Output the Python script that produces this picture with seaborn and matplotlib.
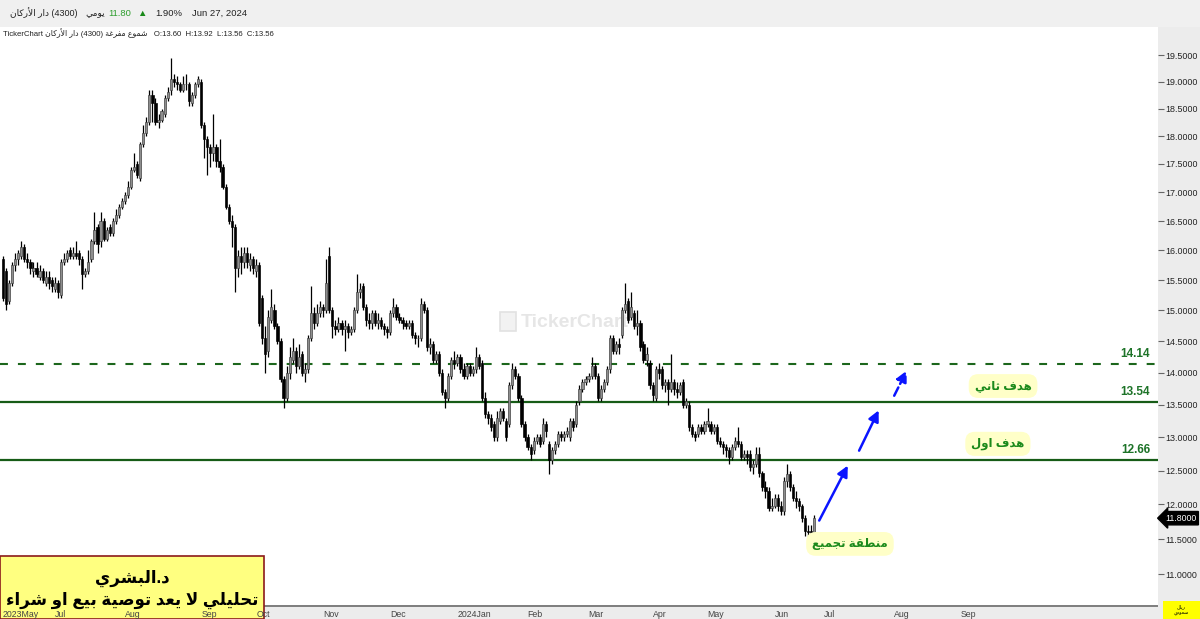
import matplotlib
matplotlib.use("Agg")
import matplotlib.pyplot as plt
import matplotlib.transforms as mtransforms
from matplotlib.patches import Rectangle, FancyArrowPatch
from matplotlib.ticker import FormatStrFormatter
import numpy as np
import seaborn as sns

# ---- candles (one per trading day, May 2023 .. Jun 27 2024) ----
opens = [
    15.85, 15.65, 15.15, 15.45, 15.75, 15.85, 15.90, 16.05, 15.85, 15.80,
    15.65, 15.70, 15.55, 15.65, 15.45, 15.55, 15.50, 15.35, 15.45, 15.25,
    15.80, 15.85, 16.00, 15.90, 15.95, 15.95, 15.85, 15.60, 15.65, 15.85,
    16.15, 16.40, 16.15, 16.50, 16.20, 16.40, 16.30, 16.50, 16.60, 16.75,
    16.85, 16.95, 17.10, 17.40, 17.50, 17.25, 17.85, 18.05, 18.25, 18.75,
    18.60, 18.25, 18.30, 18.40, 18.70, 18.85, 19.05, 19.00, 18.95, 18.85,
    18.95, 18.95, 18.60, 18.75, 18.95, 19.00, 18.20, 17.95, 17.80, 17.70,
    17.80, 17.55, 17.45, 17.10, 16.75, 16.50, 16.40, 15.70, 15.90, 15.80,
    15.95, 15.75, 15.85, 15.65, 15.75, 15.20, 14.55, 14.35, 14.85, 15.00,
    14.75, 14.50, 13.90, 13.60, 14.00, 14.20, 14.35, 14.10, 14.30, 14.00,
    14.05, 14.55, 14.95, 14.80, 14.95, 15.05, 15.00, 15.90, 15.00, 14.75,
    14.70, 14.80, 14.70, 14.75, 14.65, 14.70, 15.00, 15.30, 15.40, 15.05,
    14.85, 14.80, 14.95, 14.80, 14.85, 14.75, 14.70, 14.65, 14.95, 15.05,
    14.90, 14.85, 14.80, 14.75, 14.80, 14.60, 14.55, 14.55, 15.10, 15.00,
    14.40, 14.45, 14.20, 14.30, 14.00, 13.70, 13.60, 13.95, 14.20, 14.15,
    14.25, 14.05, 13.95, 14.10, 14.00, 14.05, 14.25, 14.15, 13.60, 13.35,
    13.30, 13.20, 13.00, 13.25, 13.40, 13.25, 13.20, 13.80, 14.05, 13.95,
    13.60, 13.20, 13.00, 12.85, 12.80, 12.95, 13.00, 12.95, 13.20, 12.90,
    12.65, 12.80, 12.90, 13.05, 13.00, 13.05, 13.00, 13.25, 13.20, 13.55,
    13.75, 13.85, 13.90, 13.95, 14.10, 13.95, 13.60, 13.75, 13.85, 14.05,
    14.55, 14.35, 14.45, 14.60, 15.00, 15.15, 14.90, 14.95, 14.75, 14.80,
    14.45, 14.20, 14.15, 13.80, 13.60, 14.05, 14.05, 13.80, 13.85, 13.75,
    13.85, 13.75, 13.70, 13.85, 13.50, 13.50, 13.15, 13.05, 13.05, 13.15,
    13.10, 13.20, 13.20, 13.10, 13.15, 12.95, 12.90, 12.85, 12.80, 12.70,
    12.85, 12.95, 12.90, 12.70, 12.75, 12.75, 12.55, 12.60, 12.75, 12.47,
    12.25, 12.20, 11.95, 11.98, 12.10, 11.98, 11.90, 12.35, 12.45, 12.25,
    12.10, 12.05, 11.98, 11.80, 11.62, 11.62, 11.60,
]
highs = [
    15.90, 15.70, 15.50, 15.80, 15.95, 16.00, 16.15, 16.10, 15.95, 15.85,
    15.80, 15.80, 15.75, 15.70, 15.65, 15.65, 15.55, 15.55, 15.50, 15.85,
    15.95, 16.00, 16.05, 16.05, 16.15, 16.00, 15.90, 15.70, 16.00, 16.20,
    16.65, 16.45, 16.65, 16.55, 16.40, 16.45, 16.55, 16.70, 16.80, 16.90,
    17.00, 17.20, 17.45, 17.70, 17.55, 17.90, 18.20, 18.35, 18.85, 18.85,
    18.70, 18.40, 18.50, 18.75, 18.90, 19.45, 19.15, 19.10, 19.00, 19.10,
    19.15, 19.00, 18.80, 19.00, 19.10, 19.05, 18.25, 18.00, 17.85, 18.40,
    17.85, 17.95, 17.50, 17.15, 16.80, 16.60, 16.45, 16.00, 16.05, 16.05,
    16.05, 15.95, 15.90, 15.85, 15.80, 15.25, 14.75, 15.00, 15.35, 15.10,
    14.80, 14.55, 13.95, 14.10, 14.40, 14.55, 14.40, 14.45, 14.35, 14.15,
    14.60, 15.40, 15.05, 15.10, 15.15, 15.10, 15.85, 16.05, 15.05, 14.85,
    14.90, 14.85, 14.85, 14.80, 14.75, 15.05, 15.60, 15.45, 15.45, 15.10,
    14.95, 15.00, 15.00, 14.95, 14.90, 14.80, 14.75, 15.00, 15.20, 15.10,
    14.95, 14.90, 14.85, 14.85, 14.85, 14.65, 14.60, 15.20, 15.15, 15.05,
    14.55, 14.50, 14.35, 14.35, 14.05, 13.75, 14.00, 14.25, 14.35, 14.30,
    14.30, 14.15, 14.15, 14.15, 14.10, 14.40, 14.30, 14.20, 13.70, 13.40,
    13.35, 13.25, 13.40, 13.45, 13.45, 13.30, 13.85, 14.15, 14.10, 14.00,
    13.65, 13.25, 13.05, 12.90, 13.00, 13.05, 13.05, 13.30, 13.25, 12.95,
    12.85, 12.95, 13.10, 13.10, 13.10, 13.15, 13.30, 13.30, 13.55, 13.80,
    13.90, 13.95, 14.00, 14.25, 14.15, 14.00, 13.80, 13.90, 14.10, 14.60,
    14.60, 14.50, 14.55, 15.05, 15.45, 15.20, 15.30, 15.00, 15.00, 14.85,
    14.50, 14.40, 14.20, 13.85, 14.10, 14.15, 14.10, 13.90, 13.90, 14.30,
    13.90, 13.85, 13.85, 13.90, 13.60, 13.55, 13.20, 13.10, 13.20, 13.20,
    13.25, 13.45, 13.25, 13.20, 13.20, 13.00, 12.95, 12.90, 12.85, 12.90,
    13.00, 13.15, 12.95, 12.80, 12.80, 12.80, 12.65, 12.85, 12.85, 12.50,
    12.35, 12.25, 12.10, 12.15, 12.15, 12.05, 12.40, 12.60, 12.50, 12.30,
    12.20, 12.10, 12.00, 11.85, 11.70, 11.70, 11.85,
]
lows = [
    15.15, 15.00, 15.10, 15.40, 15.65, 15.75, 15.85, 15.80, 15.70, 15.60,
    15.55, 15.55, 15.50, 15.45, 15.40, 15.35, 15.30, 15.30, 15.20, 15.20,
    15.75, 15.80, 15.85, 15.85, 15.85, 15.75, 15.35, 15.55, 15.60, 15.80,
    16.10, 15.95, 16.05, 16.15, 16.15, 16.25, 16.25, 16.45, 16.55, 16.70,
    16.80, 16.90, 17.05, 17.35, 17.25, 17.20, 17.80, 18.00, 18.20, 18.25,
    18.20, 18.15, 18.25, 18.35, 18.65, 18.75, 18.90, 18.85, 18.80, 18.80,
    18.85, 18.55, 18.55, 18.70, 18.90, 18.15, 17.60, 17.30, 17.45, 17.55,
    17.45, 17.35, 17.05, 16.70, 16.45, 16.05, 15.30, 15.55, 15.60, 15.70,
    15.70, 15.65, 15.60, 15.55, 14.75, 14.45, 14.00, 14.25, 14.80, 14.70,
    14.45, 13.85, 13.45, 13.55, 13.90, 14.15, 14.00, 14.05, 13.95, 13.85,
    14.00, 14.50, 14.70, 14.75, 14.90, 14.90, 14.95, 14.95, 14.55, 14.60,
    14.65, 14.60, 14.35, 14.55, 14.60, 14.65, 14.95, 15.20, 15.00, 14.75,
    14.70, 14.70, 14.75, 14.70, 14.70, 14.60, 14.55, 14.60, 14.90, 14.85,
    14.80, 14.70, 14.70, 14.70, 14.55, 14.45, 14.40, 14.50, 14.95, 14.35,
    14.30, 14.15, 14.15, 13.95, 13.65, 13.45, 13.55, 13.90, 14.05, 14.10,
    14.00, 13.90, 13.90, 13.95, 13.95, 14.00, 14.05, 13.55, 13.30, 13.20,
    13.10, 12.95, 12.95, 13.20, 13.25, 12.95, 13.15, 13.75, 13.90, 13.55,
    13.15, 12.95, 12.80, 12.65, 12.75, 12.90, 12.85, 12.90, 13.00, 12.45,
    12.60, 12.75, 12.85, 12.95, 12.95, 13.00, 12.95, 13.10, 13.15, 13.50,
    13.70, 13.80, 13.85, 13.90, 13.90, 13.55, 13.55, 13.70, 13.80, 14.00,
    14.30, 14.30, 14.30, 14.55, 14.95, 14.80, 14.85, 14.70, 14.60, 14.35,
    14.15, 14.10, 13.75, 13.55, 13.55, 13.90, 13.75, 13.70, 13.50, 13.70,
    13.65, 13.60, 13.65, 13.45, 13.45, 13.10, 13.00, 12.95, 13.00, 13.05,
    13.05, 13.15, 13.05, 13.05, 12.90, 12.85, 12.75, 12.70, 12.60, 12.65,
    12.80, 12.85, 12.65, 12.65, 12.60, 12.50, 12.45, 12.55, 12.40, 12.20,
    12.10, 11.90, 11.90, 11.95, 11.90, 11.85, 11.85, 12.25, 12.20, 12.05,
    11.95, 11.90, 11.75, 11.55, 11.52, 11.52, 11.55,
]
closes = [
    15.20, 15.10, 15.45, 15.75, 15.85, 15.95, 16.05, 15.85, 15.80, 15.70,
    15.70, 15.60, 15.65, 15.50, 15.55, 15.45, 15.40, 15.45, 15.30, 15.80,
    15.85, 15.95, 15.90, 15.95, 15.90, 15.85, 15.60, 15.65, 15.80, 16.15,
    16.35, 16.10, 16.50, 16.20, 16.35, 16.30, 16.50, 16.60, 16.75, 16.85,
    16.95, 17.10, 17.40, 17.45, 17.30, 17.85, 18.05, 18.25, 18.75, 18.60,
    18.25, 18.30, 18.45, 18.70, 18.80, 19.05, 19.00, 18.95, 18.85, 18.95,
    18.95, 18.65, 18.75, 18.95, 19.05, 18.20, 17.95, 17.80, 17.70, 17.80,
    17.55, 17.45, 17.10, 16.75, 16.50, 16.40, 15.70, 15.90, 15.80, 15.95,
    15.80, 15.85, 15.70, 15.75, 14.80, 14.55, 14.30, 14.90, 15.05, 14.75,
    14.50, 13.90, 13.60, 14.00, 14.25, 14.35, 14.10, 14.25, 14.00, 14.05,
    14.55, 14.95, 14.80, 14.95, 15.05, 15.00, 15.45, 15.00, 14.75, 14.70,
    14.80, 14.70, 14.75, 14.65, 14.70, 15.00, 15.30, 15.35, 15.05, 14.85,
    14.80, 14.95, 14.80, 14.85, 14.75, 14.70, 14.65, 14.95, 15.05, 14.90,
    14.85, 14.80, 14.75, 14.80, 14.60, 14.55, 14.55, 15.10, 15.00, 14.40,
    14.45, 14.20, 14.30, 14.00, 13.70, 13.60, 13.95, 14.20, 14.15, 14.25,
    14.05, 13.95, 14.10, 14.00, 14.05, 14.25, 14.10, 13.60, 13.35, 13.30,
    13.15, 13.00, 13.30, 13.40, 13.30, 13.00, 13.80, 14.05, 13.95, 13.60,
    13.20, 13.00, 12.85, 12.75, 12.95, 13.00, 12.90, 13.20, 13.10, 12.65,
    12.80, 12.90, 13.05, 13.00, 13.05, 13.10, 13.25, 13.15, 13.50, 13.75,
    13.85, 13.90, 13.95, 14.10, 13.95, 13.60, 13.75, 13.85, 14.05, 14.55,
    14.35, 14.45, 14.40, 15.00, 15.10, 14.85, 15.05, 14.75, 14.80, 14.40,
    14.20, 14.30, 13.80, 13.65, 14.05, 14.00, 13.80, 13.85, 13.75, 13.85,
    13.75, 13.70, 13.80, 13.50, 13.55, 13.15, 13.05, 13.00, 13.15, 13.10,
    13.20, 13.25, 13.10, 13.15, 12.95, 12.90, 12.85, 12.80, 12.70, 12.85,
    12.95, 12.90, 12.70, 12.75, 12.70, 12.55, 12.60, 12.75, 12.47, 12.25,
    12.20, 11.95, 11.98, 12.10, 11.98, 11.90, 12.35, 12.45, 12.25, 12.10,
    12.05, 11.98, 11.80, 11.62, 11.60, 11.58, 11.80,
]

# month ticks (trading-day index where each month starts)
month_pos = [0, 17, 40, 65, 83, 105, 127, 149, 172, 192, 213, 231, 253, 269, 292, 314]
month_labels = ["2023May", "Jul", "Aug", "Sep", "Oct", "Nov", "Dec", "2024Jan",
                "Feb", "Mar", "Apr", "May", "Jun", "Jul", "Aug", "Sep"]
price_ticks = [11.0, 11.5, 12.0, 12.5, 13.0, 13.5, 14.0, 14.5, 15.0,
               15.5, 16.0, 16.5, 17.0, 17.5, 18.0, 18.5, 19.0, 19.5]

# target levels
levels = [14.14, 13.54, 12.66]
level_dashed = [True, False, False]

# projected path arrows in (day index, price)
arrow_start_x = [267.2, 280.3, 291.8]
arrow_start_y = [11.73, 12.76, 13.60]
arrow_end_x = [277.4, 287.5, 296.7]
arrow_end_y = [12.61, 13.45, 14.07]
arrow_dashed = [False, False, True]

# callout boxes
callout_text = ["هدف ثاني", "هدف اول", "منطقة تجميع"]
callout_x = [327.9, 326.2, 277.7]
callout_y = [13.79, 12.90, 11.43]

last_price = 11.80


# ---- minimal Arabic shaping (matplotlib has no RTL/joining support) ----
_DUAL = {'ئ': 0xFE89, 'ب': 0xFE8F, 'ت': 0xFE95, 'ث': 0xFE99, 'ج': 0xFE9D,
         'ح': 0xFEA1, 'خ': 0xFEA5, 'س': 0xFEB1, 'ش': 0xFEB5, 'ص': 0xFEB9,
         'ض': 0xFEBD, 'ط': 0xFEC1, 'ظ': 0xFEC5, 'ع': 0xFEC9, 'غ': 0xFECD,
         'ف': 0xFED1, 'ق': 0xFED5, 'ك': 0xFED9, 'ل': 0xFEDD, 'م': 0xFEE1,
         'ن': 0xFEE5, 'ه': 0xFEE9, 'ي': 0xFEF1}
_RIGHT = {'آ': 0xFE81, 'أ': 0xFE83, 'ؤ': 0xFE85, 'إ': 0xFE87, 'ا': 0xFE8D,
          'ة': 0xFE93, 'د': 0xFEA9, 'ذ': 0xFEAB, 'ر': 0xFEAD, 'ز': 0xFEAF,
          'و': 0xFEED, 'ى': 0xFEEF}
_LAM_ALEF = {'آ': 0xFEF5, 'أ': 0xFEF7, 'إ': 0xFEF9, 'ا': 0xFEFB}


def rtl(text):
    toks = []
    i = 0
    while i < len(text):
        c = text[i]
        if c == 'ل' and i + 1 < len(text) and text[i + 1] in _LAM_ALEF:
            toks.append(('R', _LAM_ALEF[text[i + 1]]))
            i += 2
            continue
        if c in _DUAL:
            toks.append(('D', _DUAL[c]))
        elif c in _RIGHT:
            toks.append(('R', _RIGHT[c]))
        else:
            toks.append((None, c))
        i += 1
    out = []
    for k, (kind, base) in enumerate(toks):
        if kind is None:
            out.append(base)
            continue
        prev = toks[k - 1][0] if k > 0 else None
        nxt = toks[k + 1][0] if k + 1 < len(toks) else None
        jp = prev == 'D'
        jn = kind == 'D' and nxt is not None
        if jp and jn:
            code = base + 3
        elif jn:
            code = base + 2
        elif jp:
            code = base + 1
        else:
            code = base
        out.append(chr(code))
    return ''.join(out)[::-1]


# ---- figure ----
sns.set_style("white")
plt.rcParams['font.family'] = ['Liberation Sans', 'DejaVu Sans']

W, H = 1200, 619
fig = plt.figure(figsize=(W / 100, H / 100), dpi=100)
fig.patch.set_facecolor('white')


def fx(px):
    return px / W


def fy(py):
    return 1 - py / H


ax = fig.add_axes([0, fy(606), fx(1158), (606 - 27) / H])
ax.set_facecolor('none')

o = np.array(opens)
h = np.array(highs)
lo = np.array(lows)
c = np.array(closes)
x = np.arange(len(c))
up = c >= o

ax.vlines(x, lo, h, color='black', lw=0.9, zorder=2)
ax.bar(x[up], (c - o)[up], bottom=o[up], width=0.72, color='#8e8e8e',
       edgecolor='#3c3c3c', linewidth=0.45, zorder=3)
ax.bar(x[~up], (o - c)[~up], bottom=c[~up], width=0.72, color='black',
       edgecolor='black', linewidth=0.45, zorder=3)

ax.set_yscale('function', functions=(lambda v: np.log(v + 13.0),
                                      lambda t: np.exp(t) - 13.0))
ax.set_ylim(10.56, 20.04)
ax.set_xlim(-0.98, 378.7)

# target lines and labels
for lvl, dashed in zip(levels, level_dashed):
    if dashed:
        ax.axhline(lvl, color='#1c661c', lw=1.5, dashes=(3.8, 4.8), zorder=1)
    else:
        ax.axhline(lvl, color='#175c17', lw=1.6, zorder=1)
    ax.annotate(f"{lvl:.2f}", xy=(0.993, lvl), xycoords=('axes fraction', 'data'),
                xytext=(0, 3), textcoords='offset points', ha='right', va='bottom',
                fontsize=8.5, fontweight='bold', color='#1d7328')

# projected arrows
for x0, y0, x1, y1, dashed in zip(arrow_start_x, arrow_start_y, arrow_end_x,
                                  arrow_end_y, arrow_dashed):
    arr = FancyArrowPatch((x0, y0), (x1, y1), arrowstyle='-|>', mutation_scale=16,
                          color='#0a14ff', lw=1.8, linestyle='--' if dashed else '-',
                          zorder=5)
    ax.add_patch(arr)

# callouts
for txt, cx, cy in zip(callout_text, callout_x, callout_y):
    ax.text(cx, cy, rtl(txt), ha='center', va='center', fontsize=8.5,
            fontweight='bold', color='#1c8a1c', zorder=6,
            bbox=dict(boxstyle='round,pad=0.5,rounding_size=0.8', fc='#ffffc8', ec='none'))

# watermark
ax.text(0.4965, 0.49, "TickerChart", transform=ax.transAxes, ha='center', va='center',
        fontsize=14, fontweight='bold', color='#e6e6e6', zorder=0)
ax.add_patch(Rectangle((0.432, 0.475), 0.014, 0.032, transform=ax.transAxes,
                       fc='#f2f2f2', ec='#e2e2e2', lw=1.2, zorder=0))

# axes styling
for side in ['top', 'left', 'right', 'bottom']:
    ax.spines[side].set_visible(False)

ax.yaxis.tick_right()
ax.set_yticks(price_ticks)
ax.yaxis.set_major_formatter(FormatStrFormatter('%.4f'))
ax.yaxis.set_minor_locator(matplotlib.ticker.NullLocator())
ax.tick_params(axis='y', direction='out', length=4, width=0.8, color='#666666',
               labelsize=6.4, pad=1.5, labelcolor='#222222')
ax.set_xticks(month_pos)
ax.set_xticklabels(month_labels, ha='left')
ax.tick_params(axis='x', direction='in', length=3, width=0.8, color='#999999',
               labelsize=6.3, pad=3, labelcolor='#444444')
ax.set_xlabel('')
ax.set_ylabel('')

# last price tag on the price axis
tag_tr = mtransforms.blended_transform_factory(ax.transAxes, ax.transData)
ax.text(1.006, last_price, "11.8000", transform=tag_tr, ha='left', va='center',
        fontsize=6.3, color='white', clip_on=False, zorder=10,
        bbox=dict(boxstyle='larrow,pad=0.25', fc='black', ec='black'))

# background panels (drawn under the transparent axes)
fig.patches.append(Rectangle((0, fy(27)), 1, 27 / H, transform=fig.transFigure,
                             fc='#f0f0f0', ec='none', zorder=-2))
fig.patches.append(Rectangle((fx(1158), 0), 1 - fx(1158), fy(27), transform=fig.transFigure,
                             fc='#ececec', ec='none', zorder=-2))
fig.patches.append(Rectangle((0, 0), fx(1158), 13 / H, transform=fig.transFigure,
                             fc='#ececec', ec='none', zorder=-2))
fig.patches.append(Rectangle((0, fy(607)), fx(1158), 2 / H, transform=fig.transFigure,
                             fc='#808080', ec='none', zorder=-1.5))

# author box (bottom left), under the axis labels
fig.patches.append(Rectangle((0, 0), fx(264), (619 - 556) / H, transform=fig.transFigure,
                             fc='#ffff80', ec='#8b1a1a', lw=1.2, zorder=-1))
fig.text(fx(132), fy(578), rtl("د.البشري"), ha='center', va='center', fontsize=12,
         fontweight='bold', color='black', zorder=6)
fig.text(fx(132), fy(600), rtl("تحليلي لا يعد توصية بيع او شراء"), ha='center', va='center',
         fontsize=12, fontweight='bold', color='black', zorder=6)

# header text
fig.text(fx(10), fy(13), rtl("دار الأركان") + " (4300)", fontsize=6.5, va='center', color='#222222')
fig.text(fx(85), fy(13), rtl("يومي"), fontsize=6.5, va='center', color='#222222')
fig.text(fx(108), fy(13), "11.80", fontsize=6.8, va='center', color='#2e9e2e')
fig.text(fx(137), fy(13), "▲", fontsize=6.8, va='center', color='#1a8a1a')
fig.text(fx(155), fy(13), "1.90%", fontsize=6.8, va='center', color='#222222')
fig.text(fx(192), fy(13), "Jun 27, 2024", fontsize=6.8, va='center', color='#222222')
fig.text(fx(3), fy(33), "TickerChart " + rtl("دار الأركان") + " (4300) " + rtl("شموع مفرغة")
         + "   O:13.60  H:13.92  L:13.56  C:13.56", fontsize=5.6, va='center', color='#222222')

# small currency box (bottom right)
fig.patches.append(Rectangle((fx(1163), 0), 1 - fx(1163), (619 - 601) / H,
                             transform=fig.transFigure, fc='#ffff00', ec='none', zorder=5))
fig.text(fx(1181), fy(610), rtl("ريال") + "\n" + rtl("سعودي"), ha='center', va='center',
         fontsize=3.6, linespacing=1.0, color='black', zorder=6)

fig.savefig("out.png", dpi=100)
